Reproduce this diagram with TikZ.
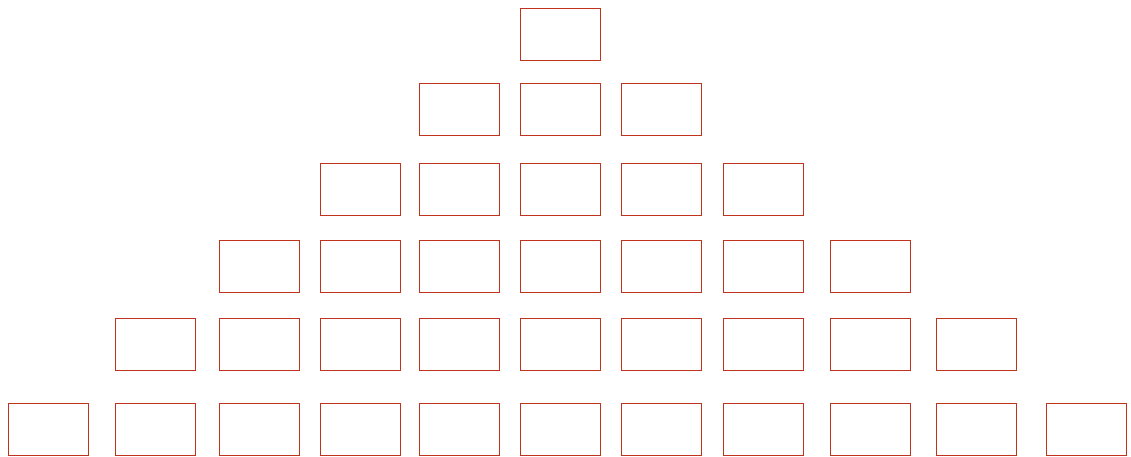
\documentclass[tikz,border=0pt]{standalone}
\definecolor{boxred}{RGB}{192,52,30}
\tikzset{cell/.style={draw=boxred,line width=1.2pt,minimum width=80pt,minimum height=52pt,inner sep=0pt,anchor=north west}}
\begin{document}
\begin{tikzpicture}[x=1pt,y=-1pt]
\useasboundingbox (0,0) rectangle (1131,456);
\foreach \r/\y/\xs in {1/8/{520},
                       2/83/{419,520,621},
                       3/163/{320,419,520,621,723},
                       4/240/{219,320,419,520,621,723,830},
                       5/318/{115,219,320,419,520,621,723,830,936},
                       6/403/{8,115,219,320,419,520,621,723,830,936,1046}}{
  \foreach \x [count=\c] in \xs {
    \node[cell] (b\r-\c) at (\x,\y) {};
  }
}
\end{tikzpicture}
\end{document}
